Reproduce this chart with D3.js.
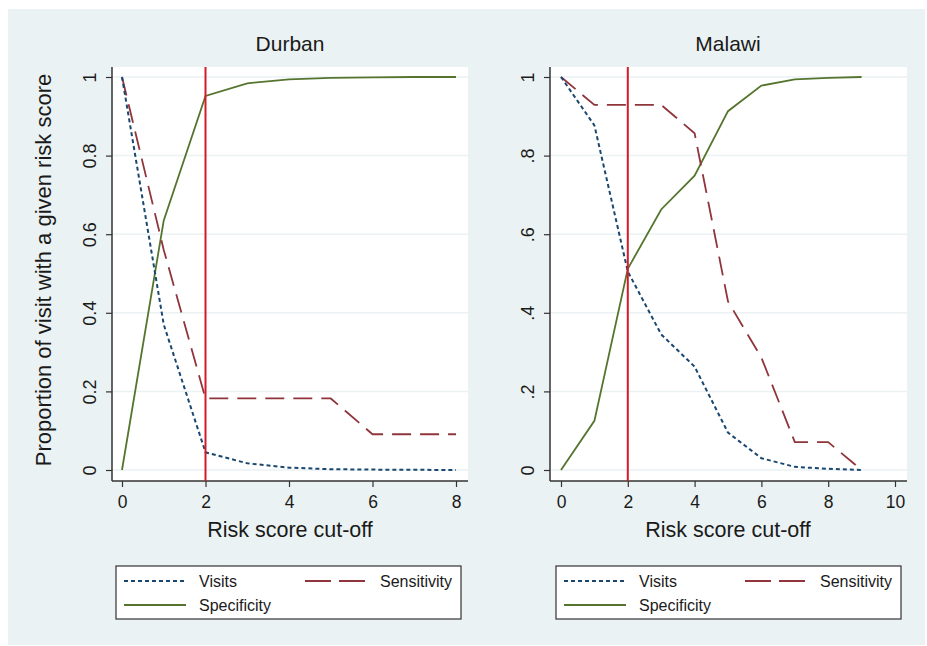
<!DOCTYPE html>
<html>
<head>
<meta charset="utf-8">
<script src="https://cdnjs.cloudflare.com/ajax/libs/d3/7.8.5/d3.min.js"></script>
<style>
  body { margin: 0; background: #fff; }
  text { font-family: "Liberation Sans", Arial, sans-serif; fill: #1a1a1a; }
</style>
</head>
<body>
<div id="chart"></div>
<script>
// risk score cut-offs
var durbanScore = [0, 1, 2, 3, 4, 5, 6, 7, 8];
var malawiScore = [0, 1, 2, 3, 4, 5, 6, 7, 8, 9];

// Durban series
var durbanVisits = [1, 0.37, 0.045, 0.017, 0.006, 0.002, 0.001, 0.0005, 0];
var durbanSens   = [1, 0.56, 0.182, 0.182, 0.182, 0.182, 0.091, 0.091, 0.091];
var durbanSpec   = [0, 0.635, 0.952, 0.984, 0.994, 0.998, 0.999, 1, 1];

// Malawi series
var malawiVisits = [1, 0.877, 0.505, 0.345, 0.263, 0.095, 0.03, 0.008, 0.003, 0];
var malawiSens   = [1, 0.929, 0.929, 0.929, 0.857, 0.429, 0.286, 0.071, 0.071, 0];
var malawiSpec   = [0, 0.125, 0.512, 0.663, 0.749, 0.913, 0.978, 0.994, 0.998, 1];

// axis ticks
var yTicks = [0, 0.2, 0.4, 0.6, 0.8, 1];
var durbanYLabels = ["0", "0.2", "0.4", "0.6", "0.8", "1"];
var malawiYLabels = ["0", ".2", ".4", ".6", ".8", "1"];
var durbanXTicks = [0, 2, 4, 6, 8];
var malawiXTicks = [0, 2, 4, 6, 8, 10];
var cutOff = 2;

var seriesNames = ["Visits", "Sensitivity", "Specificity"];

var colors = {visits: "#1a476f", sens: "#90353b", spec: "#55752f", cut: "#d7192a"};
var dashes = {visits: "4,3", sens: "19,9", spec: null};

var W = 927, H = 646;

var svg = d3.select("#chart").append("svg")
  .attr("width", W).attr("height", H);

// graph background
svg.append("rect")
  .attr("x", 8).attr("y", 9)
  .attr("width", 917).attr("height", 636)
  .attr("fill", "#eaf2f3");

function drawPanel(opt){
  var x = d3.scaleLinear().domain(opt.xDomain).range(opt.xRange);
  var y = d3.scaleLinear().domain([0, 1]).range([470, 77]);

  var g = svg.append("g");

  // plot region
  g.append("rect")
    .attr("x", opt.plotLeft).attr("y", 67)
    .attr("width", opt.plotRight - opt.plotLeft).attr("height", 481 - 67)
    .attr("fill", "#fff");

  // grid lines
  g.selectAll(".grid").data(yTicks).enter().append("line")
    .attr("x1", opt.plotLeft).attr("x2", opt.plotRight)
    .attr("y1", function(d){ return y(d); }).attr("y2", function(d){ return y(d); })
    .attr("stroke", "#eaf2f3").attr("stroke-width", 1.5);

  // title
  g.append("text")
    .attr("x", opt.titleX).attr("y", 51)
    .attr("text-anchor", "middle")
    .attr("font-size", 21)
    .text(opt.title);

  // y axis
  var yAxis = d3.axisLeft(y).tickValues(yTicks)
    .tickFormat(function(d, i){ return opt.yLabels[i]; })
    .tickSizeOuter(0).tickSize(6);
  var ya = g.append("g").attr("transform", "translate(" + opt.plotLeft + ",0)").call(yAxis);
  ya.select(".domain").attr("d", "M0,67V481").attr("stroke", "#333").attr("stroke-width", 1.5);
  ya.selectAll(".tick line").attr("stroke", "#333").attr("stroke-width", 1.2);
  ya.selectAll(".tick text")
    .attr("font-size", 18)
    .attr("font-family", "Liberation Sans, Arial, sans-serif")
    .attr("fill", "#1a1a1a")
    .attr("text-anchor", "middle")
    .attr("transform", "translate(-22,0) rotate(-90)")
    .attr("x", 0).attr("y", 0).attr("dy", "0.35em");

  // x axis
  var xAxis = d3.axisBottom(x).tickValues(opt.xTicks).tickFormat(d3.format("d"))
    .tickSizeOuter(0).tickSize(6).tickPadding(9);
  var xa = g.append("g").attr("transform", "translate(0,481)").call(xAxis);
  xa.select(".domain").attr("d", "M" + opt.plotLeft + ",0H" + opt.plotRight).attr("stroke", "#333").attr("stroke-width", 1.5);
  xa.selectAll(".tick line").attr("stroke", "#333").attr("stroke-width", 1.2);
  xa.selectAll(".tick text")
    .attr("font-size", 17.5)
    .attr("font-family", "Liberation Sans, Arial, sans-serif")
    .attr("fill", "#1a1a1a");

  g.append("text")
    .attr("x", opt.titleX).attr("y", 537)
    .attr("text-anchor", "middle")
    .attr("font-size", 21.5)
    .text("Risk score cut-off");

  // series
  var line = d3.line()
    .x(function(d){ return x(d[0]); })
    .y(function(d){ return y(d[1]); });

  var series = [
    {key: "spec", vals: opt.spec},
    {key: "sens", vals: opt.sens},
    {key: "visits", vals: opt.visits}
  ];
  series.forEach(function(s){
    g.append("path")
      .datum(opt.score.map(function(v, i){ return [v, s.vals[i]]; }))
      .attr("d", line)
      .attr("fill", "none")
      .attr("stroke", colors[s.key])
      .attr("stroke-width", s.key == "visits" ? 2 : 1.8)
      .attr("stroke-dasharray", dashes[s.key]);
  });

  // cut-off line
  g.append("line")
    .attr("x1", x(cutOff)).attr("x2", x(cutOff))
    .attr("y1", 67).attr("y2", 481)
    .attr("stroke", colors.cut).attr("stroke-width", 2);

  // legend
  var lx = opt.legendX;
  g.append("rect")
    .attr("x", lx).attr("y", 566)
    .attr("width", 345).attr("height", 53)
    .attr("fill", "#fff").attr("stroke", "#333").attr("stroke-width", 1.2);

  var legendItems = [
    {key: "visits", name: seriesNames[0], x: lx + 8, y: 581},
    {key: "sens", name: seriesNames[1], x: lx + 189, y: 581},
    {key: "spec", name: seriesNames[2], x: lx + 8, y: 605}
  ];
  legendItems.forEach(function(it){
    g.append("line")
      .attr("x1", it.x).attr("x2", it.x + 62)
      .attr("y1", it.y).attr("y2", it.y)
      .attr("stroke", colors[it.key])
      .attr("stroke-width", 2)
      .attr("stroke-dasharray", it.key == "sens" ? "26,8" : dashes[it.key]);
    g.append("text")
      .attr("x", it.x + 75).attr("y", it.y + 6)
      .attr("font-size", 16)
      .text(it.name);
  });
}

drawPanel({
  title: "Durban", titleX: 290,
  score: durbanScore, visits: durbanVisits, sens: durbanSens, spec: durbanSpec,
  xDomain: [0, 8], xRange: [122, 456], xTicks: durbanXTicks,
  yLabels: durbanYLabels,
  plotLeft: 112, plotRight: 468, legendX: 116
});

drawPanel({
  title: "Malawi", titleX: 728,
  score: malawiScore, visits: malawiVisits, sens: malawiSens, spec: malawiSpec,
  xDomain: [0, 10], xRange: [561, 895], xTicks: malawiXTicks,
  yLabels: malawiYLabels,
  plotLeft: 550, plotRight: 907, legendX: 556
});

// shared y axis title
svg.append("text")
  .attr("transform", "translate(51,270) rotate(-90)")
  .attr("text-anchor", "middle")
  .attr("font-size", 22)
  .text("Proportion of visit with a given risk score");
</script>
</body>
</html>
